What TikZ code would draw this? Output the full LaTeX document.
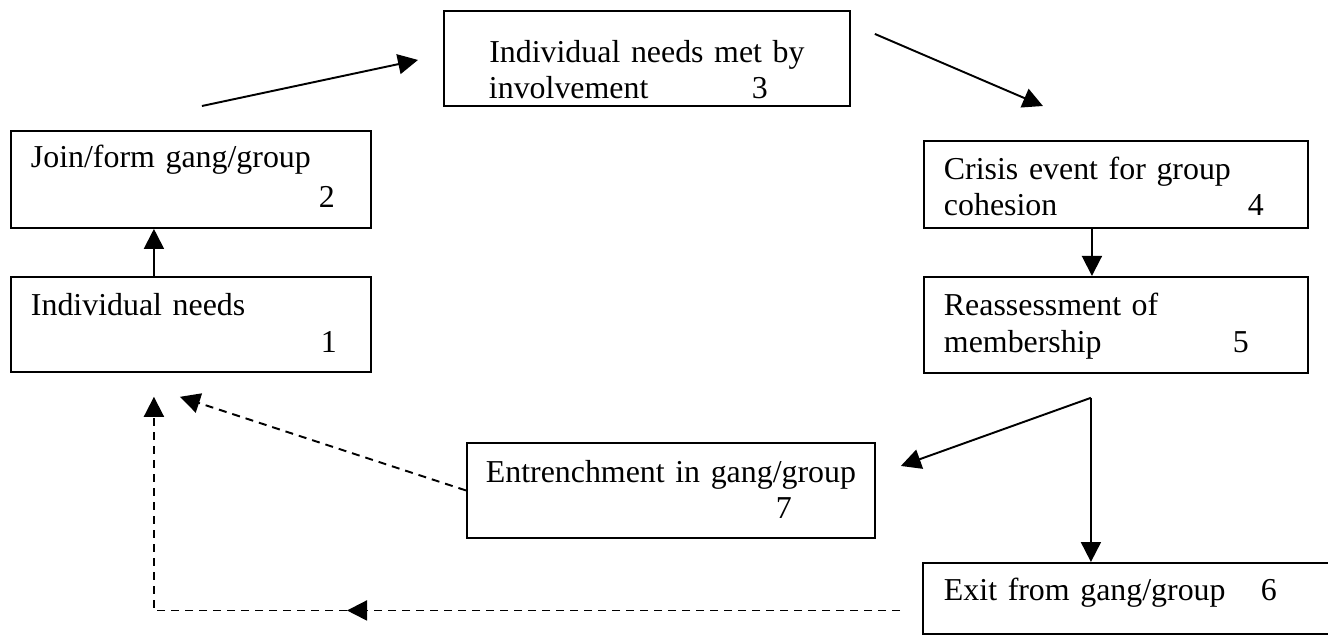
\documentclass[tikz,border=0pt]{standalone}
\usepackage{fontspec}
\setmainfont{Liberation Serif}
\usetikzlibrary{arrows.meta,positioning}

\begin{document}
\begin{tikzpicture}[
  % --- global style ---
  x=0.02cm, y=-0.02cm,
  >={Triangle[length=0.4cm,width=0.4cm]},
  every node/.style={font=\fontsize{18.15}{20.5}\selectfont},
  box/.style={
    draw, line width=1.1pt, inner ysep=0pt,
    anchor=north west, align=left
  },
  arr/.style={->, line width=1.1pt},
  darr/.style={->, line width=1.1pt, dash pattern=on 0.16cm off 0.12cm},
]
\useasboundingbox (0,0) rectangle (1328,635);

% ====== Left column ======
\node[box, inner xsep=0.4cm, text width=6.4cm, text height=0.74cm, text depth=1.2cm]
  (join) at (10,130) {Join/form gang/group\\[0.08cm]\hspace*{5.76cm}2};
\node[box, inner xsep=0.4cm, text width=6.4cm, text height=0.78cm, text depth=1.12cm,
  below=0.94cm of join]
  (needs) {Individual needs\\[0.02cm]\hspace*{5.8cm}1};

% ====== Top ======
\node[box, align=center, inner xsep=0.4cm, text width=7.32cm, text height=1.04cm, text depth=0.86cm]
  (met) at (443,10) {Individual needs met by\\\makebox[6.32cm][l]{\makebox[5.26cm][l]{involvement}3}};

% ====== Right column ======
\node[box, inner xsep=0.4cm, text width=6.88cm, text height=0.78cm, text depth=0.96cm]
  (crisis) at (923,140) {Crisis event for group\\\makebox[6.08cm][l]{cohesion}4};
\node[box, inner xsep=0.4cm, text width=6.88cm, text height=0.78cm, text depth=1.14cm,
  below=0.94cm of crisis]
  (reassess) {Reassessment of\\[0.02cm]\makebox[5.78cm][l]{membership}5};

% ====== Bottom ======
\node[box, align=center, inner xsep=0.3cm, text width=7.56cm, text height=0.8cm, text depth=1.1cm]
  (entrench) at (466,442) {Entrenchment in gang/group\\\makebox[7.28cm][l]{\hspace*{5.74cm}7}};
\node[box, inner xsep=0.42cm, text width=7.72cm, text height=0.76cm, text depth=0.66cm]
  (exit) at (922,562) {\makebox[6.34cm][l]{Exit from gang/group}6};

% ====== Arrows: cycle ======
\draw[arr] ([shift={(-37,0)}]needs.north) -- ([shift={(-37,0)}]join.south);
\draw[arr] ([shift={(11,-24)}]join.north) -- ([shift={(-25,1.5)}]met.west);
\draw[arr] ([shift={(24,-24.5)}]met.east) -- ([shift={(-73,-34)}]crisis.north);
\draw[arr] ([shift={(-24,0)}]crisis.south) -- ([shift={(-24,0)}]reassess.north);

% split below reassessment
\coordinate (split) at ([shift={(-25,24)}]reassess.south);
\draw[arr] (split) -- ([shift={(25,-24.5)}]entrench.east);
\draw[arr] (split) -- (split |- exit.north);

% ====== Dashed returns ======
\draw[darr] (entrench.west) -- ([shift={(-11,24)}]needs.south);

\coordinate (back) at ([shift={(-22,12)}]exit.west);
\coordinate (turn) at ([shift={(-553,0)}]back);
\draw[darr] (back) -- (turn);
\draw[darr] (turn) -| ([shift={(-37,24)}]needs.south);

\end{tikzpicture}
\end{document}
